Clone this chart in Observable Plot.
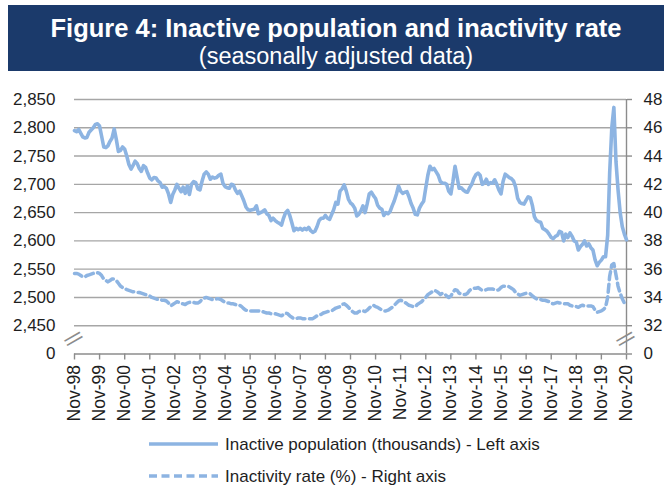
<!DOCTYPE html>
<html>
<head>
<meta charset="utf-8">
<script src="https://cdn.jsdelivr.net/npm/d3@7"></script>
<script src="https://cdn.jsdelivr.net/npm/@observablehq/plot@0.6"></script>
<style>
  html, body { margin: 0; padding: 0; background: #fff; width: 664px; height: 486px; overflow: hidden; }
  body { position: relative; font-family: "Liberation Sans", Arial, sans-serif; }
  #banner { position: absolute; left: 8px; top: 5px; width: 656px; height: 66px; background: #1B3A6B; color: #fff; text-align: center; }
  #t1 { position: absolute; left: 0; right: 0; top: 8px; font-size: 25.5px; font-weight: bold; line-height: 30px; letter-spacing: 0; }
  #t2 { position: absolute; left: 0; right: 0; top: 37px; font-size: 23.5px; line-height: 28px; }
  #chart { position: absolute; left: 0; top: 70px; }
  #legend { position: absolute; left: 0; top: 430px; }
</style>
</head>
<body>
<div id="banner"><div id="t1">Figure 4: Inactive population and inactivity rate</div><div id="t2">(seasonally adjusted data)</div></div>
<div id="chart"></div>
<svg id="legend" width="664" height="56"></svg>
<script>
// Inactive population (thousands), monthly from Nov-98 to Nov-20
const inactive = [
  2795, 2793, 2797, 2790, 2784, 2782, 2783, 2792, 2796, 2800,
  2806, 2807, 2803, 2785, 2766, 2765, 2768, 2776, 2782, 2798,
  2780, 2758, 2760, 2766, 2762, 2750, 2735, 2727, 2733, 2741,
  2737, 2728, 2723, 2733, 2730, 2720, 2711, 2708, 2712, 2711,
  2706, 2703, 2695, 2696, 2693, 2683, 2668, 2682, 2690, 2700,
  2693, 2687, 2695, 2684, 2697, 2682, 2700, 2705, 2703, 2692,
  2690, 2705, 2718, 2722, 2718, 2709, 2713, 2711, 2712, 2716,
  2718, 2702, 2696, 2694, 2693, 2700, 2699, 2690, 2684, 2688,
  2680, 2671, 2660, 2655, 2654, 2655, 2656, 2662, 2648, 2650,
  2652, 2655, 2648, 2645, 2636, 2640, 2636, 2633, 2631, 2628,
  2640, 2650, 2654, 2645, 2632, 2618, 2622, 2620, 2622, 2619,
  2622, 2620, 2624, 2618, 2615, 2617, 2625, 2636, 2640, 2640,
  2645, 2640, 2638, 2647, 2655, 2668, 2665, 2688, 2692, 2699,
  2688, 2674, 2667, 2664, 2658, 2644, 2647, 2653, 2662, 2650,
  2665, 2683, 2686, 2680, 2675, 2663, 2658, 2656, 2645, 2650,
  2648, 2652, 2662, 2671, 2683, 2697, 2688, 2684, 2686, 2687,
  2678, 2666, 2658, 2647, 2646, 2658, 2665, 2670, 2694, 2716,
  2732, 2726, 2728, 2722, 2716, 2705, 2702, 2702, 2700, 2688,
  2683, 2705, 2732, 2712, 2693, 2694, 2690, 2687, 2686, 2694,
  2700, 2710, 2717, 2720, 2716, 2700, 2702, 2709, 2700, 2703,
  2702, 2708, 2700, 2690, 2683, 2705, 2718, 2715, 2712, 2710,
  2706, 2695, 2675, 2668, 2666, 2665, 2672, 2678, 2676, 2662,
  2643, 2636, 2634, 2633, 2622, 2620, 2617, 2612, 2606, 2604,
  2608, 2610, 2617, 2615, 2600, 2612, 2606, 2614, 2608, 2600,
  2598, 2584, 2590, 2594, 2600, 2591, 2595, 2588, 2584, 2567,
  2556, 2562, 2566, 2572, 2572, 2610, 2720, 2800, 2836, 2740,
  2690, 2650, 2625, 2612, 2602
];
// Inactivity rate (%), same months
const rate = [
  35.7, 35.7, 35.65, 35.55, 35.45, 35.45, 35.55, 35.6, 35.65, 35.7,
  35.75, 35.75, 35.7, 35.55, 35.3, 35.2, 35.1, 35.2, 35.3, 35.3,
  35.2, 35.0, 34.8, 34.7, 34.65, 34.55, 34.5, 34.45, 34.4, 34.4,
  34.35, 34.35, 34.3, 34.25, 34.2, 34.15, 34.1, 34.0, 33.95, 33.9,
  33.85, 33.85, 33.8, 33.8, 33.75, 33.6, 33.4, 33.5, 33.6, 33.7,
  33.65, 33.55, 33.55, 33.5, 33.6, 33.65, 33.7, 33.65, 33.6, 33.6,
  33.7, 33.85, 33.95, 34.0, 33.95, 33.9, 33.85, 33.85, 33.9, 33.9,
  33.85, 33.75, 33.65, 33.6, 33.6, 33.55, 33.55, 33.5, 33.45, 33.45,
  33.35, 33.2, 33.1, 33.05, 33.05, 33.05, 33.05, 33.05, 33.05, 33.0,
  33.0, 32.95, 32.9, 32.9, 32.85, 32.85, 32.85, 32.8, 32.75, 32.7,
  32.8, 32.9, 32.85, 32.7, 32.6, 32.5, 32.5, 32.55, 32.55, 32.5,
  32.5, 32.5, 32.5, 32.5, 32.5, 32.6, 32.7, 32.75, 32.8, 32.9,
  32.95, 33.0, 33.0, 33.05, 33.15, 33.25, 33.3, 33.35, 33.5, 33.55,
  33.45, 33.3, 33.15, 33.0, 32.9, 32.9, 33.0, 33.05, 33.05, 33.0,
  33.1, 33.25, 33.4, 33.45, 33.35, 33.3, 33.2, 33.1, 33.05, 33.05,
  33.1, 33.2, 33.3, 33.45, 33.6, 33.75, 33.8, 33.75, 33.65, 33.55,
  33.45, 33.4, 33.35, 33.35, 33.5, 33.6, 33.7, 33.85, 34.0, 34.2,
  34.3, 34.4, 34.5, 34.45, 34.35, 34.2, 34.3, 34.25, 34.1, 34.0,
  34.1, 34.35, 34.55, 34.5, 34.3, 34.25, 34.2, 34.2, 34.3, 34.5,
  34.6, 34.65, 34.65, 34.7, 34.6, 34.5, 34.5, 34.55, 34.6, 34.6,
  34.6, 34.55, 34.5, 34.55, 34.7, 34.8, 34.8, 34.8, 34.75, 34.65,
  34.55, 34.35, 34.25, 34.15, 34.2, 34.25, 34.3, 34.3, 34.25, 34.1,
  34.0, 33.9, 33.85, 33.85, 33.8, 33.8, 33.75, 33.7, 33.6, 33.55,
  33.6, 33.65, 33.6, 33.6, 33.55, 33.55, 33.55, 33.45, 33.4, 33.35,
  33.35, 33.3, 33.4, 33.45, 33.4, 33.4, 33.4, 33.4, 33.35, 33.1,
  32.95, 33.0, 33.05, 33.15, 33.3, 34.0, 35.5, 36.3, 36.4, 35.6,
  34.8, 34.3, 33.9, 33.6, 33.4
];
const tickLabels = ["Nov-98","Nov-99","Nov-00","Nov-01","Nov-02","Nov-03","Nov-04","Nov-05",
  "Nov-06","Nov-07","Nov-08","Nov-09","Nov-10","Nov-11","Nov-12","Nov-13","Nov-14","Nov-15",
  "Nov-16","Nov-17","Nov-18","Nov-19","Nov-20"];
const leftTicks = [0, 2450, 2500, 2550, 2600, 2650, 2700, 2750, 2800, 2850];
const rightTicks = [0, 32, 34, 36, 38, 40, 42, 44, 46, 48];
const seriesNames = ["Inactive population (thousands) - Left axis", "Inactivity rate (%) - Right axis"];

// broken axis: the "0" tick sits one step below the lowest gridline
const axisFloor = 2400;
const leftPos = v => v === 0 ? axisFloor : v;
const rateToLeft = r => 2450 + (r - 32) * 25;

const months = inactive.map((_, i) => new Date(Date.UTC(1998, 10 + i, 1)));
const data = months.map((date, i) => ({date, inactive: inactive[i], rate: rate[i]}));
const tickDates = tickLabels.map((_, i) => new Date(Date.UTC(1998 + i, 10, 1)));
const labelByTime = new Map(tickDates.map((d, i) => [+d, tickLabels[i]]));
const leftLabelByPos = new Map(leftTicks.map(v => [leftPos(v), v === 0 ? "0" : d3.format(",")(v)]));
const rightLabelByPos = new Map(rightTicks.map((v, i) => [leftPos(leftTicks[i]), String(v)]));
const xStart = months[0], xEnd = months[months.length - 1];

const lineColor = "#8DB4E2";
const gridColor = "#A6A6A6";
const axisColor = "#8C8C8C";
const textColor = "#1E1E1E";
const dash = "8,4.5";

const plot = Plot.plot({
  width: 664,
  height: 360,
  marginLeft: 74,
  marginRight: 38,
  marginTop: 29,
  marginBottom: 76.5,
  style: {fontFamily: '"Liberation Sans", Arial, sans-serif', fontSize: "17px", color: textColor, background: "transparent"},
  x: {type: "utc", domain: [xStart, xEnd]},
  y: {domain: [axisFloor, 2850]},
  marks: [
    Plot.ruleY(leftTicks.filter(v => v !== 0), {stroke: gridColor, strokeWidth: 1.4}),
    Plot.ruleY([axisFloor], {stroke: axisColor, strokeWidth: 1.4}),
    Plot.ruleX([xEnd], {y1: axisFloor, y2: 2850, stroke: axisColor, strokeWidth: 1.4}),
    Plot.axisY(leftTicks.map(leftPos), {anchor: "left", tickSize: 0, tickPadding: 19, tickFormat: d => leftLabelByPos.get(d), fill: textColor, label: null}),
    Plot.axisY(leftTicks.map(leftPos), {anchor: "right", tickSize: 5, tickPadding: 12, tickFormat: d => rightLabelByPos.get(d), fill: textColor, stroke: axisColor, strokeWidth: 1.4, label: null}),
    Plot.axisX(tickDates, {tickRotate: -90, tickSize: 6, tickPadding: 5, fontSize: 17.5, tickFormat: d => labelByTime.get(+d), fill: textColor, stroke: axisColor, strokeWidth: 1.4, label: null}),
    Plot.line(data, {x: "date", y: d => rateToLeft(d.rate), stroke: lineColor, strokeWidth: 3.5, strokeDasharray: dash}),
    Plot.line(data, {x: "date", y: "inactive", stroke: lineColor, strokeWidth: 3.6, strokeLinejoin: "round"}),
    Plot.text([xStart, xEnd], {x: d => d, y: 2428, text: () => "||", rotate: 60, fontSize: 19, fill: axisColor})
  ]
});
document.getElementById("chart").appendChild(plot);

// legend
const leg = d3.select("#legend");
const rows = [{y: 14, dash: null}, {y: 46, dash: dash}];
rows.forEach((r, i) => {
  leg.append("line").attr("x1", 149).attr("x2", 218).attr("y1", r.y).attr("y2", r.y)
    .attr("stroke", lineColor).attr("stroke-width", 3.5).attr("stroke-dasharray", r.dash);
  leg.append("text").attr("x", 225).attr("y", r.y).attr("dy", "0.36em")
    .attr("font-family", '"Liberation Sans", Arial, sans-serif').attr("font-size", 17)
    .attr("fill", textColor).text(seriesNames[i]);
});
</script>
</body>
</html>
